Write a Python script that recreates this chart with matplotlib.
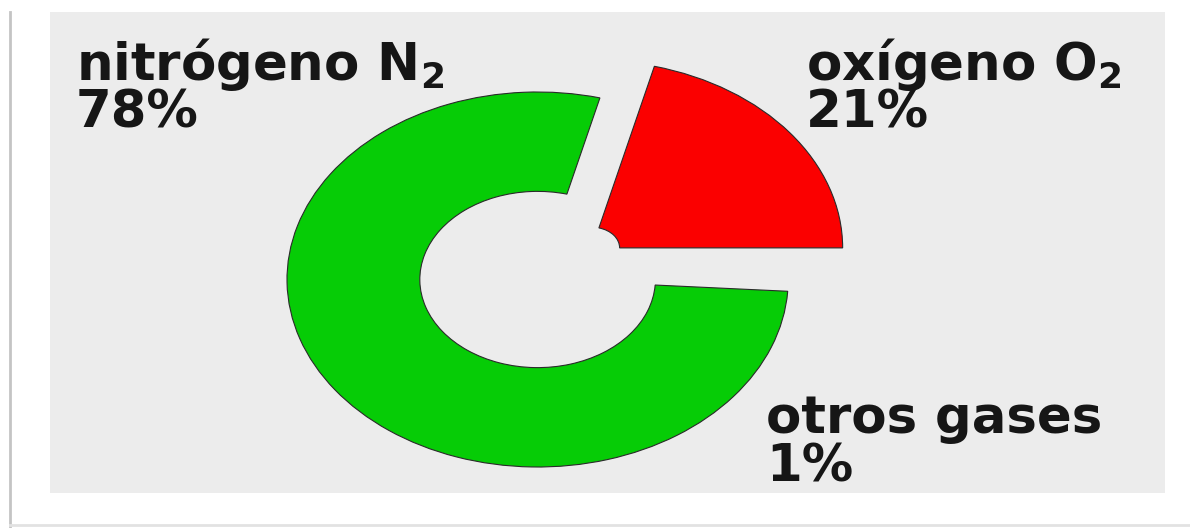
import matplotlib

matplotlib.use("Agg")

import matplotlib.pyplot as plt
from matplotlib.patches import Rectangle

# datos del gráfico
gases = ["oxígeno", "nitrógeno", "otros gases"]
formulas = ["O$_2$", "N$_2$", ""]
porcentajes = [21, 78, 1]
colores = ["#fb0000", "#06cc06", "none"]
separacion = [0.275, 0.0, 0.0]
ancho_anillo = [0.89, 0.53, 0.0]

ANCHO, ALTO = 1190, 528
CENTRO = (537.6, 279.5)  # px
RADIO_X, RADIO_Y = 250.6, 187.5  # px

plt.rcParams["font.family"] = ["DejaVu Sans"]
plt.rcParams["mathtext.fontset"] = "dejavusans"
plt.rcParams["mathtext.default"] = "bf"

fig = plt.figure(figsize=(ANCHO / 100, ALTO / 100), dpi=100)
fig.patch.set_facecolor("white")

# fondo en coordenadas de pixel
fondo = fig.add_axes([0, 0, 1, 1])
fondo.set_xlim(0, ANCHO)
fondo.set_ylim(ALTO, 0)
fondo.axis("off")
fondo.add_patch(Rectangle((50, 12), 1115, 481, facecolor="#ececec", edgecolor="none"))
fondo.plot([10, 10], [12, ALTO], color="#c4c4c4", linewidth=2)
fondo.plot([10, ANCHO], [525, 525], color="#e2e2e2", linewidth=2)

# tarta (elíptica, como en la imagen original)
ax = fig.add_axes([0, 0, 1, 1])
ax.patch.set_alpha(0)
cuñas, _ = ax.pie(
    porcentajes,
    colors=colores,
    startangle=0,
    counterclock=True,
    explode=separacion,
    wedgeprops=dict(edgecolor="#2a2a2a", linewidth=0.8),
)
for cuña, ancho in zip(cuñas, ancho_anillo):
    if ancho > 0:
        cuña.set_width(ancho)
    else:
        cuña.set_visible(False)
ax.set_aspect("auto")
ax.set_xlim(-CENTRO[0] / RADIO_X, (ANCHO - CENTRO[0]) / RADIO_X)
ax.set_ylim(-(ALTO - CENTRO[1]) / RADIO_Y, CENTRO[1] / RADIO_Y)
ax.axis("off")

# etiquetas
posiciones = [(806, 80), (76, 80), (766, 433)]
estilo = dict(fontsize=37, fontweight="bold", color="#161616", va="baseline", ha="left")
for gas, formula, pct, (x, y) in zip(gases, formulas, porcentajes, posiciones):
    titulo = f"{gas} {formula}".strip()
    fondo.text(x, y, titulo, **estilo)
    fondo.text(x, y + 48, f"{pct}%", **estilo)

fig.savefig("out.png", dpi=100)
